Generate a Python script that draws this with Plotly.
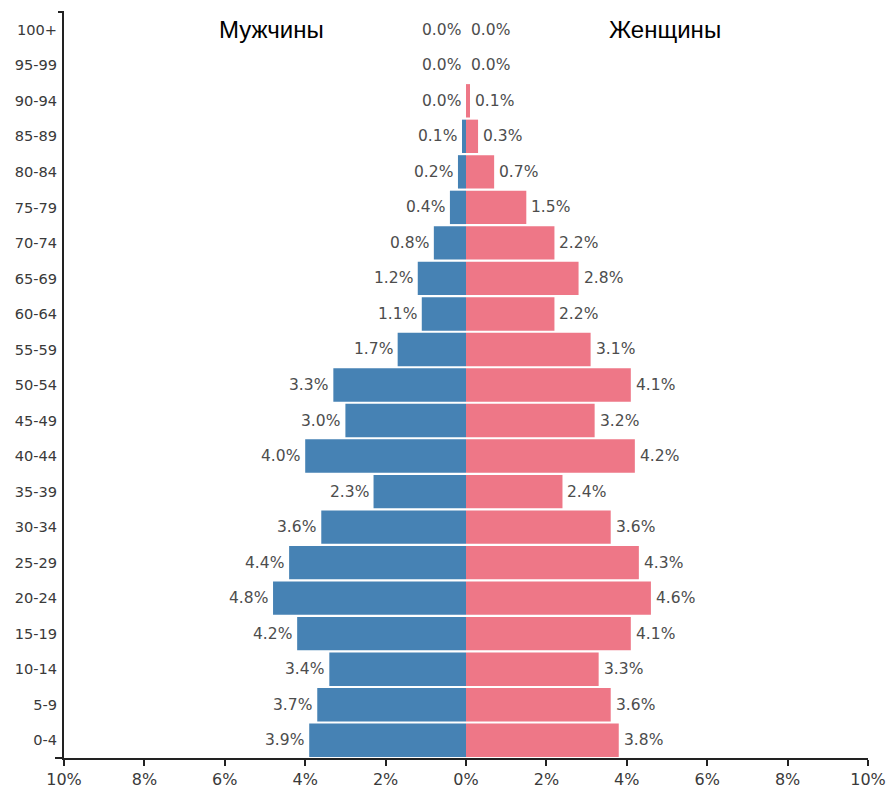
import plotly.graph_objects as go

age_groups = ["0-4", "5-9", "10-14", "15-19", "20-24", "25-29", "30-34", "35-39",
              "40-44", "45-49", "50-54", "55-59", "60-64", "65-69", "70-74",
              "75-79", "80-84", "85-89", "90-94", "95-99", "100+"]
male = [3.9, 3.7, 3.4, 4.2, 4.8, 4.4, 3.6, 2.3, 4.0, 3.0, 3.3, 1.7, 1.1, 1.2, 0.8,
        0.4, 0.2, 0.1, 0.0, 0.0, 0.0]
female = [3.8, 3.6, 3.3, 4.1, 4.6, 4.3, 3.6, 2.4, 4.2, 3.2, 4.1, 3.1, 2.2, 2.8, 2.2,
          1.5, 0.7, 0.3, 0.1, 0.0, 0.0]
tick_vals = [-10, -8, -6, -4, -2, 0, 2, 4, 6, 8, 10]
tick_text = ["10%", "8%", "6%", "4%", "2%", "0%", "2%", "4%", "6%", "8%", "10%"]

BLUE = "#4682B4"
PINK = "#EE7787"
AXIS = "#222222"
LABEL_FONT = dict(family="DejaVu Sans", size=15.5, color="#4d4d4d")

fig = go.Figure()
fig.add_trace(go.Bar(y=age_groups, x=[-v for v in male], orientation="h",
                     marker=dict(color=BLUE, line=dict(width=0)), name="Мужчины",
                     hoverinfo="skip"))
fig.add_trace(go.Bar(y=age_groups, x=female, orientation="h",
                     marker=dict(color=PINK, line=dict(width=0)), name="Женщины",
                     hoverinfo="skip"))

for g, m, f in zip(age_groups, male, female):
    fig.add_annotation(x=-m, y=g, text=f"{m:.1f}%", showarrow=False,
                       xanchor="right", xshift=-3, font=LABEL_FONT)
    fig.add_annotation(x=f, y=g, text=f"{f:.1f}%", showarrow=False,
                       xanchor="left", xshift=3, font=LABEL_FONT)

fig.add_annotation(x=-4.83, y="100+", text="Мужчины", showarrow=False, yshift=0,
                   font=dict(family="Liberation Sans, Arial", size=24, color="#000000"))
fig.add_annotation(x=4.95, y="100+", text="Женщины", showarrow=False, yshift=0,
                   font=dict(family="Liberation Sans, Arial", size=24, color="#000000"))

# outer ticks of the y axis
fig.add_shape(type="line", xref="paper", yref="paper", x0=-6 / 804, x1=0, y0=1, y1=1,
              line=dict(color=AXIS, width=2))
fig.add_shape(type="line", xref="paper", yref="paper", x0=-9 / 804, x1=0, y0=0, y1=0,
              line=dict(color=AXIS, width=2))

fig.update_layout(
    width=892, height=788,
    margin=dict(l=64, r=24, t=12, b=30),
    barmode="relative", bargap=0.06,
    plot_bgcolor="white", paper_bgcolor="white",
    showlegend=False,
    xaxis=dict(range=[-10, 10], tickvals=tick_vals, ticktext=tick_text,
               showgrid=False, zeroline=False, showline=True, linecolor=AXIS,
               linewidth=2, ticks="outside", ticklen=6, tickwidth=2, tickcolor=AXIS,
               tickfont=dict(family="DejaVu Sans", size=16, color="#3a3a3a"),
               fixedrange=True, automargin=False),
    yaxis=dict(categoryorder="array", categoryarray=age_groups,
               range=[-0.5, 20.5], showgrid=False, zeroline=False, showline=True,
               linecolor=AXIS, linewidth=2, ticks="", ticklabelstandoff=2,
               tickfont=dict(family="DejaVu Sans", size=14.6, color="#3a3a3a"),
               fixedrange=True, automargin=False),
)

fig.write_html("out.html", post_script="document.body.style.margin='0';",
               config={"displayModeBar": False})
